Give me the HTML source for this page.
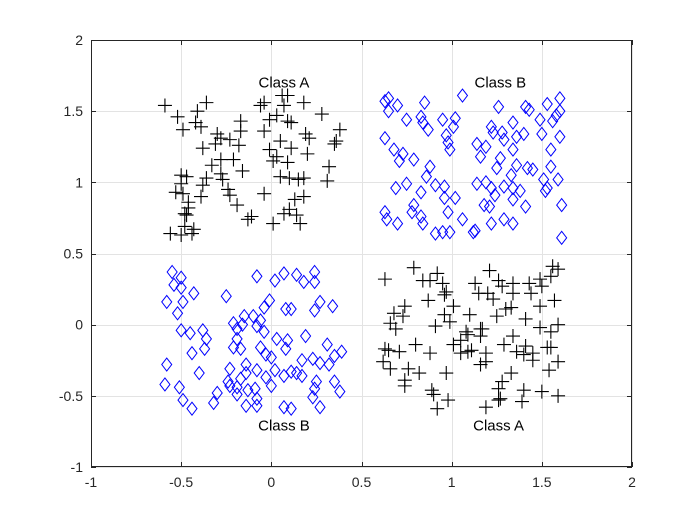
<!DOCTYPE html>
<html><head><meta charset="utf-8"><style>
body{margin:0;background:#fff;}
svg{display:block;font-family:"Liberation Sans",sans-serif;}
</style></head><body>
<svg id="chart" width="700" height="525" viewBox="0 0 700 525"></svg>
<script>
const xTicks=[-1,-0.5,0,0.5,1,1.5,2];
const yTicks=[-1,-0.5,0,0.5,1,1.5,2];
const xTickLabels=["-1","-0.5","0","0.5","1","1.5","2"];
const yTickLabels=["-1","-0.5","0","0.5","1","1.5","2"];
const classALabels=[{t:"Class A",x:0.07,y:1.7},{t:"Class A",x:1.26,y:-0.71}];
const classBLabels=[{t:"Class B",x:1.27,y:1.7},{t:"Class B",x:0.07,y:-0.71}];
const classAx=[-0.59,-0.36,-0.52,-0.41,-0.49,-0.42,-0.39,-0.30,-0.28,-0.31,-0.23,-0.17,-0.17,-0.18,-0.38,-0.28,-0.33,-0.21,-0.16,-0.28,-0.36,-0.38,-0.27,-0.24,-0.23,-0.19,-0.39,-0.50,-0.47,-0.50,-0.53,-0.49,-0.46,-0.46,-0.48,-0.47,-0.56,-0.50,-0.48,-0.44,-0.43,-0.13,-0.11,-0.04,0.01,0.07,0.10,0.14,0.16,0.13,0.18,0.05,0.10,0.15,0.18,0.31,0.32,0.09,0.01,0.03,-0.01,0.11,0.20,0.05,-0.04,0.19,0.21,0.35,0.36,0.38,0.28,0.18,0.09,0.11,0.03,-0.01,0.06,0.09,0.07,-0.06,-0.04,
0.63,0.79,0.84,0.88,0.92,0.95,0.97,0.96,0.87,0.74,0.73,0.68,0.66,0.69,0.63,0.65,0.71,0.62,0.66,0.76,0.82,0.74,0.74,0.80,0.88,0.91,0.96,0.99,1.01,1.10,0.97,0.89,0.90,0.98,0.92,1.13,1.15,1.21,1.20,1.23,1.26,1.28,1.34,1.34,1.30,1.33,1.25,1.41,1.43,1.44,1.49,1.50,1.55,1.56,1.59,1.57,1.49,1.49,1.55,1.59,1.08,1.05,1.09,1.16,1.17,1.16,1.01,1.05,1.09,1.11,1.19,1.19,1.16,1.29,1.34,1.36,1.41,1.40,1.45,1.45,1.53,1.55,1.59,1.54,1.33,1.28,1.26,1.27,1.26,1.40,1.39,1.50,1.59,1.19];
const classAy=[1.54,1.56,1.46,1.50,1.37,1.42,1.39,1.34,1.31,1.27,1.30,1.43,1.36,1.26,1.24,1.16,1.12,1.16,1.08,1.06,1.03,0.98,1.02,0.95,0.91,0.84,0.90,1.05,1.04,0.99,0.93,0.92,0.86,0.82,0.78,0.77,0.64,0.63,0.69,0.64,0.67,0.74,0.76,0.92,0.71,0.78,0.81,0.77,0.71,0.88,0.90,1.04,1.03,1.02,1.03,1.01,1.11,1.14,1.15,1.18,1.23,1.24,1.20,1.29,1.36,1.34,1.31,1.27,1.29,1.37,1.48,1.56,1.43,1.42,1.47,1.44,1.61,1.61,1.54,1.54,1.56,
0.32,0.40,0.31,0.31,0.36,0.29,0.23,0.21,0.17,0.13,0.06,0.08,0.01,-0.03,-0.17,-0.18,-0.19,-0.26,-0.31,-0.31,-0.34,-0.39,-0.43,-0.14,-0.20,-0.01,0.07,0.02,0.13,0.07,-0.34,-0.46,-0.49,-0.53,-0.59,0.29,0.22,0.38,0.22,0.18,0.31,0.27,0.29,0.22,0.11,0.12,0.06,0.04,0.29,0.22,0.32,0.27,0.34,0.41,0.39,0.17,0.13,-0.02,-0.05,0.00,-0.05,-0.11,-0.07,-0.03,-0.03,-0.08,-0.14,-0.20,-0.19,-0.18,-0.20,-0.26,-0.28,-0.14,-0.08,-0.19,-0.15,-0.21,-0.20,-0.25,-0.16,-0.16,-0.26,-0.32,-0.34,-0.40,-0.45,-0.52,-0.53,-0.46,-0.54,-0.47,-0.50,-0.58];
const classBx=[0.63,0.65,0.65,0.70,0.85,1.06,0.75,0.83,0.84,0.87,0.95,1.02,1.01,0.97,0.98,0.99,0.63,0.68,0.73,0.71,0.79,0.88,0.86,0.91,0.96,0.96,1.02,0.98,1.06,0.91,0.95,0.99,1.12,1.13,0.69,0.75,0.83,0.79,0.78,0.83,0.84,0.70,0.63,0.64,1.14,1.16,1.19,1.22,1.23,1.28,1.26,1.29,1.34,1.36,1.40,1.34,1.27,1.25,1.36,1.42,1.45,1.33,1.14,1.19,1.22,1.24,1.29,1.34,1.38,1.34,1.41,1.18,1.21,1.22,1.29,1.34,1.41,1.43,1.53,1.60,1.60,1.58,1.56,1.49,1.50,1.60,1.55,1.55,1.59,1.51,1.53,1.52,1.61,1.61,
-0.55,-0.50,-0.54,-0.50,-0.43,-0.58,-0.49,-0.52,-0.25,-0.08,0.02,0.07,0.14,0.18,0.24,0.24,-0.01,-0.04,0.08,0.11,0.24,0.27,0.34,-0.50,-0.45,-0.38,-0.36,-0.37,-0.44,-0.58,-0.40,-0.59,-0.51,-0.49,-0.44,-0.32,-0.30,-0.21,-0.19,-0.15,-0.16,-0.10,-0.06,-0.08,-0.04,-0.19,-0.21,-0.17,-0.06,-0.03,0.00,0.03,0.09,0.08,0.19,0.31,0.35,0.39,0.23,0.27,0.32,0.17,-0.23,-0.14,-0.14,-0.08,0.02,-0.03,0.00,0.07,0.11,0.14,0.17,-0.24,-0.23,-0.17,-0.19,-0.13,-0.09,-0.19,-0.08,-0.14,-0.08,0.07,0.11,0.23,0.24,0.25,0.35,0.38,0.27];
const classBy=[1.57,1.59,1.50,1.54,1.56,1.61,1.44,1.46,1.42,1.37,1.44,1.45,1.39,1.33,1.28,1.23,1.31,1.23,1.20,1.15,1.16,1.11,1.04,0.98,0.97,0.89,0.89,0.79,0.74,0.64,0.65,0.65,0.65,0.66,0.96,0.99,0.93,0.84,0.79,0.76,0.71,0.71,0.79,0.74,1.27,1.18,1.25,1.39,1.35,1.35,1.53,1.30,1.42,1.32,1.34,1.23,1.17,1.10,1.12,1.10,1.09,1.05,0.99,1.00,0.96,0.91,0.97,0.96,0.94,0.88,0.83,0.84,0.83,0.71,0.74,0.71,1.53,1.51,1.55,1.59,1.50,1.47,1.43,1.44,1.34,1.32,1.23,1.11,1.02,1.02,0.96,0.94,0.84,0.61,
0.37,0.33,0.28,0.26,0.22,0.16,0.16,0.08,0.20,0.34,0.31,0.36,0.35,0.30,0.37,0.30,0.17,0.12,0.11,0.11,0.10,0.16,0.13,-0.04,-0.06,-0.04,-0.10,-0.17,-0.20,-0.28,-0.34,-0.42,-0.44,-0.53,-0.59,-0.55,-0.48,0.01,-0.03,0.06,0.00,0.06,0.03,-0.01,-0.05,-0.10,-0.16,-0.17,-0.16,-0.21,-0.23,-0.10,-0.11,-0.17,-0.08,-0.14,-0.22,-0.19,-0.24,-0.27,-0.28,-0.25,-0.31,-0.28,-0.34,-0.32,-0.32,-0.37,-0.43,-0.36,-0.33,-0.34,-0.36,-0.40,-0.43,-0.38,-0.44,-0.46,-0.45,-0.49,-0.52,-0.57,-0.57,-0.58,-0.59,-0.51,-0.45,-0.40,-0.40,-0.47,-0.58];

const NS="http://www.w3.org/2000/svg";
const svg=document.getElementById('chart');
const L=91,R=632,T=40,B=467;
const sx=v=>L+(v-(-1))/3*(R-L);
const sy=v=>B-(v-(-1))/3*(B-T);
function mk(tag,attrs,parent){const e=document.createElementNS(NS,tag);for(const k in attrs)e.setAttribute(k,attrs[k]);(parent||svg).appendChild(e);return e;}
const bg=mk('rect',{x:L,y:T,width:R-L,height:B-T,fill:'#fff'});


const grid=mk('g',{stroke:'#e3e3e3','stroke-width':1});


xTicks.forEach(v=>{const x=Math.round(sx(v))+0.5;mk('line',{x1:x,x2:x,y1:T,y2:B},grid);});
yTicks.forEach(v=>{const y=Math.round(sy(v))+0.5;mk('line',{x1:L,x2:R,y1:y,y2:y},grid);});
const pA=mk('g',{stroke:'#000','stroke-width':1.1,fill:'none'});


classAx.forEach((v,i)=>{const x=sx(v),y=sy(classAy[i]);const p=mk('path',{d:`M${x-7} ${y}H${x+7}M${x} ${y-7}V${y+7}`},pA);

});
const pB=mk('g',{stroke:'#0000ff','stroke-width':1,fill:'none'});


classBx.forEach((v,i)=>{const x=sx(v),y=sy(classBy[i]);const p=mk('path',{d:`M${x} ${y-6.5}L${x+5} ${y}L${x} ${y+6.5}L${x-5} ${y}Z`},pB);

});
const ax=mk('g',{stroke:'#262626','stroke-width':1,fill:'none'});


mk('rect',{x:L+0.5,y:T+0.5,width:R-L-1,height:B-T-1},ax);
xTicks.forEach(v=>{const x=Math.round(sx(v))+0.5;mk('line',{x1:x,x2:x,y1:B,y2:B-5},ax);mk('line',{x1:x,x2:x,y1:T,y2:T+5},ax);});
yTicks.forEach(v=>{const y=Math.round(sy(v))+0.5;mk('line',{x1:L,x2:L+5,y1:y,y2:y},ax);mk('line',{x1:R,x2:R-5,y1:y,y2:y},ax);});
xTicks.forEach((v,i)=>{const t=mk('text',{x:sx(v),y:B+20,'text-anchor':'middle','font-size':14,fill:'#262626'});t.textContent=xTickLabels[i];

});
yTicks.forEach((v,i)=>{const t=mk('text',{x:L-8,y:sy(v)+5,'text-anchor':'end','font-size':14,fill:'#262626'});t.textContent=yTickLabels[i];

});
classALabels.concat(classBLabels).forEach(o=>{const t=mk('text',{x:sx(o.x),y:sy(o.y)+5,'text-anchor':'middle','font-size':15,fill:'#000'});t.textContent=o.t;

});
</script>
</body></html>
